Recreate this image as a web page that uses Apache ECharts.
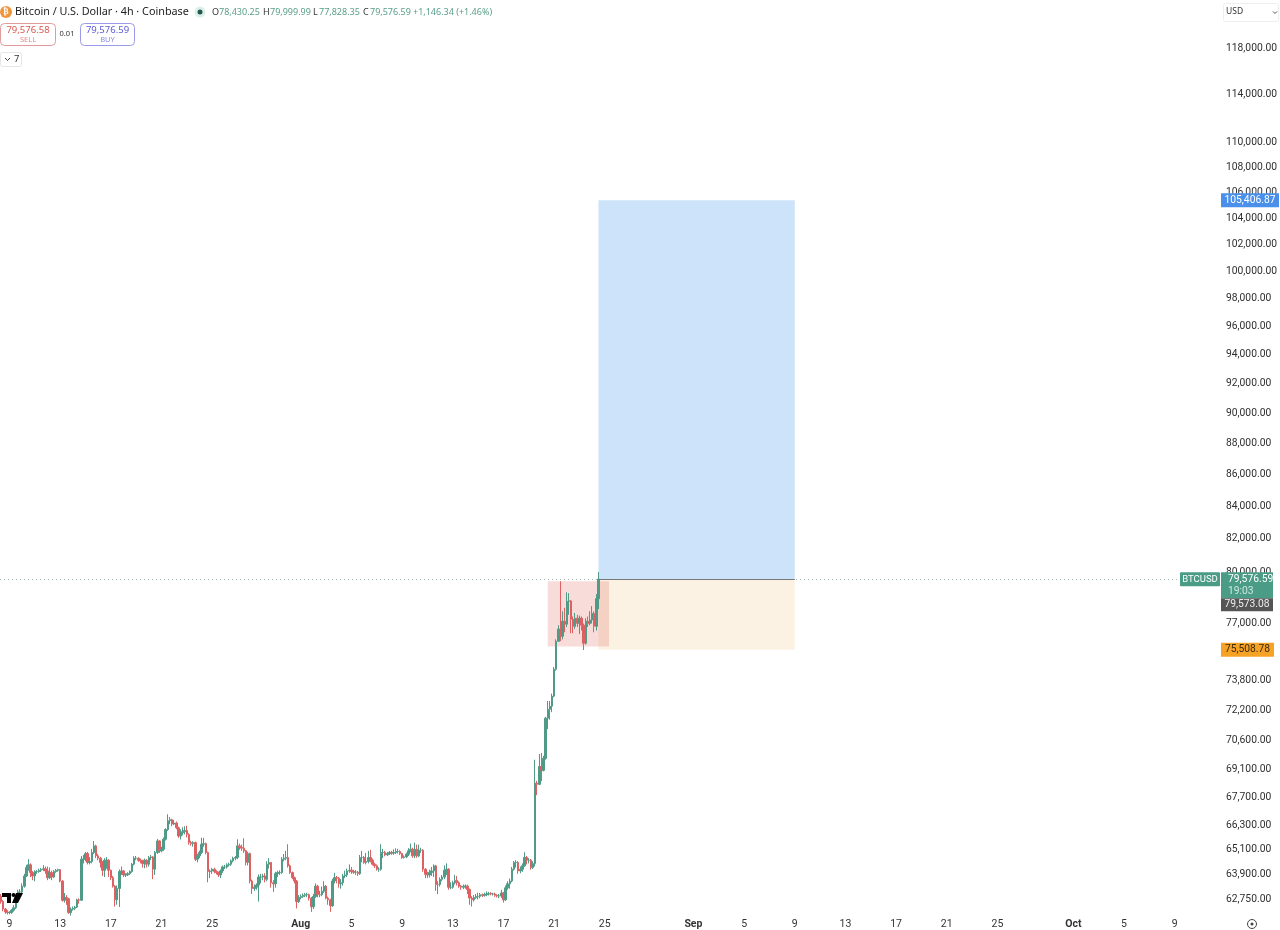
<!DOCTYPE html>
<html><head><meta charset="utf-8">
<style>html,body{margin:0;padding:0;background:#fff}#c{width:1280px;height:930px}</style>
<script src="https://cdn.jsdelivr.net/npm/echarts@6/dist/echarts.min.js"></script>
</head><body><div id="c"></div>
<script>
const opens=[
62900,62650,62300,62170,62140,62140,62250,62360,62730,63100,
63100,63370,63850,64250,64380,64010,63850,64060,64060,64120,
64150,64190,64090,63770,64010,63800,64060,64120,64150,63610,
62710,62840,62780,62140,62300,62330,62390,62730,62710,64650,
64650,64920,64490,64540,64970,65290,64810,64700,64490,64120,
64600,64600,64120,63770,63370,62730,63260,64060,64090,63900,
63900,63960,64060,64410,64700,64700,64600,64570,64440,64600,
64410,64730,64760,64170,64970,65530,65050,65130,65610,66090,
66520,66570,66360,66410,66170,65770,65930,65980,66040,65850,
65450,65400,65450,64650,64810,64970,65370,65400,64970,64060,
64090,64170,64060,64010,63900,64090,64280,64280,64380,64410,
64570,64700,64730,65290,65210,65180,65050,64490,64920,63610,
63260,63320,63420,63800,63800,63850,63690,64410,64490,63530,
63480,63960,64010,64010,64650,64700,64730,64330,64010,63770,
63610,62650,62840,62890,62940,62970,62970,62810,62410,62890,
63370,62970,62970,63130,63370,62810,62730,62460,63610,63770,
63740,63480,63530,63850,63900,64090,64120,64060,64030,64030,
63960,64730,64730,64490,64540,64730,64600,64410,64330,64170,
64170,64970,64970,64860,64920,64970,64940,64970,65020,65020,
64920,64730,64760,64890,65050,65130,64810,65130,64810,65080,
65080,64170,63930,63900,64010,64090,64330,63450,63450,63690,
63800,64120,64170,63320,63320,63530,63640,63530,63370,63320,
63370,63370,63210,62810,62730,62840,62890,62890,62970,62940,
62970,63000,63020,63000,63000,62940,62910,62910,63050,62730,
63290,63480,63610,64170,64490,64490,64090,64170,64330,64730,
64600,64600,64250,64440,68400,68340,69250,69050,69670,71780,
72250,72420,72960,74430,75990,76680,76280,77130,76960,78280,
78300,77240,76840,77300,77010,77300,76900,75880,77130,77000,
77200,77580,76840,78430.25];
const closes=[
62650,62300,62170,62140,62140,62250,62360,62730,63100,63100,
63370,63850,64250,64380,64010,63850,64060,64060,64120,64150,
64190,64090,63770,64010,63800,64060,64120,64150,63610,62710,
62840,62780,62140,62300,62330,62390,62730,62710,64650,64650,
64920,64490,64540,64970,65290,64810,64700,64490,64120,64600,
64600,64120,63770,63370,62730,63260,64060,64090,63900,63900,
63960,64060,64410,64700,64700,64600,64570,64440,64600,64410,
64730,64760,64170,64970,65530,65050,65130,65610,66090,66520,
66570,66360,66410,66170,65770,65930,65980,66040,65850,65450,
65400,65450,64650,64810,64970,65370,65400,64970,64060,64090,
64170,64060,64010,63900,64090,64280,64280,64380,64410,64570,
64700,64730,65290,65210,65180,65050,64490,64920,63610,63260,
63320,63420,63800,63800,63850,63690,64410,64490,63530,63480,
63960,64010,64010,64650,64700,64730,64330,64010,63770,63610,
62650,62840,62890,62940,62970,62970,62810,62410,62890,63370,
62970,62970,63130,63370,62810,62730,62460,63610,63770,63740,
63480,63530,63850,63900,64090,64120,64060,64030,64030,63960,
64730,64730,64490,64540,64730,64600,64410,64330,64170,64170,
64970,64970,64860,64920,64970,64940,64970,65020,65020,64920,
64730,64760,64890,65050,65130,64810,65130,64810,65080,65080,
64170,63930,63900,64010,64090,64330,63450,63450,63690,63800,
64120,64170,63320,63320,63530,63640,63530,63370,63320,63370,
63370,63210,62810,62730,62840,62890,62890,62970,62940,62970,
63000,63020,63000,63000,62940,62910,62910,63050,62730,63290,
63480,63610,64170,64490,64490,64090,64170,64330,64730,64600,
64600,64250,64440,68400,68340,69250,69050,69670,71780,72250,
72420,72960,74430,75990,76680,76280,77130,76960,78280,78300,
77240,76840,77300,77010,77300,76900,75880,77130,77000,77200,
77580,76840,78430,79576.59];
const highs=[
63000,62720,62350,62250,62200,62300,62480,62800,63200,63230,
63500,63950,64380,64650,64450,64080,64120,64130,64200,64230,
64360,64300,64300,64250,64100,64130,64180,64200,64180,63650,
63050,62950,62820,62380,62420,62450,62780,62800,64800,64850,
65000,65000,64750,65150,65530,65350,64900,64760,64560,64700,
64750,64650,64150,63850,63420,63400,64160,64300,64130,63980,
64030,64120,64470,64790,64800,64740,64680,64620,64680,64650,
64800,64850,64800,65050,65630,65560,65250,65700,66150,66840,
66700,66620,66560,66480,66230,66100,66200,66250,66280,65900,
65540,65520,65500,64900,65060,65690,65680,65450,65020,64160,
64230,64240,64120,64060,64160,64350,64380,64450,64480,64640,
64770,64800,65610,65400,65350,65660,65100,65010,64970,63680,
63450,63500,63920,63950,63950,63980,64550,64700,64520,63650,
64050,64100,64120,64750,64900,65050,65370,64400,64060,63820,
63660,62950,62980,63020,63050,63060,63020,62860,63000,63500,
63430,63150,63350,63600,63420,62880,62780,63720,64000,63850,
63800,63700,63950,64100,64200,64400,64280,64150,64130,64090,
64850,65050,64800,64950,65050,65100,64680,64480,64400,64260,
65370,65150,65050,65000,65050,65050,65120,65170,65150,65080,
64960,64830,64960,65180,65400,65200,65450,65350,65350,65200,
65130,64220,64050,64150,64280,64400,64380,63600,63780,63900,
64350,64450,64220,63550,63620,63900,63850,63600,63420,63450,
63450,63440,63260,62900,62950,63000,63060,63050,63020,63060,
63120,63100,63090,63060,63060,62990,63000,63200,63100,63400,
63600,63730,64280,64560,64600,64560,64300,64450,64980,64800,
64700,64660,64550,69600,68520,69900,69950,69800,71850,72700,
72700,73100,74550,76100,76900,79450,77700,77900,78800,78750,
78350,77400,77600,77500,77450,77400,77000,77300,77400,77700,
78000,77700,78700,79999.99];
const lows=[
62550,62200,62080,62050,62060,62080,62180,62300,62680,62950,
63000,63300,63800,64100,63800,63650,63600,63950,64000,64040,
64080,63950,63650,63700,63650,63750,64000,64050,63550,62650,
62600,62500,62080,62000,62230,62250,62350,62550,62680,64450,
64550,64400,64400,64450,64900,64700,64600,64250,63850,63800,
64200,63800,63650,63300,62420,62500,62400,63900,63800,63800,
63850,63900,64000,64350,64600,64520,64450,64250,64220,64250,
64300,64600,63700,63900,64900,64950,64980,65050,65550,66020,
66350,66250,66300,66100,65680,65600,65800,65850,65700,65350,
65300,65250,64560,64500,64700,64900,65250,64880,63550,63750,
63950,63980,63920,63800,63750,64000,64180,64200,64300,64330,
64500,64600,64650,65100,65050,64950,64350,64350,63500,63000,
63150,63200,62650,63500,63650,63550,63600,64200,63300,63100,
63300,63800,63900,63950,64550,64600,64250,63950,63700,63500,
62330,62580,62750,62820,62860,62860,62700,62170,62300,62820,
62850,62850,62900,63050,62750,62500,62170,62400,63500,63500,
63300,63250,63400,63750,63800,64000,63950,63950,63900,63850,
63900,64500,64430,64400,64450,64500,64350,64230,64100,64050,
64100,64700,64790,64800,64850,64860,64860,64900,64920,64850,
64660,64680,64700,64800,64980,64720,64700,64720,64750,64950,
64050,63750,63750,63780,63850,63800,63150,63000,63350,63600,
63700,63900,63200,63230,63250,63450,63400,63290,63200,63230,
63250,63000,62500,62420,62650,62780,62750,62800,62860,62880,
62900,62930,62940,62930,62870,62840,62800,62820,62600,62680,
63200,63250,63550,64100,64250,63950,63980,64050,64280,64400,
64450,64150,64180,64300,67800,68300,68500,69000,69600,71200,
71700,72100,72900,74350,75990,76000,76100,76500,76800,77500,
76450,76450,76700,76800,76400,76600,75500,75800,76800,76900,
77000,76500,76600,77828.35];

const axisTicks=[118000,114000,110000,108000,106000,104000,102000,100000,98000,96000,94000,92000,90000,88000,86000,84000,82000,80000,77000,73800,72200,70600,69100,67700,66300,65100,63900,62750];
const dayTicks=[1,5,9,13,17,21,25];
const monthNames=['Jan','Feb','Mar','Apr','May','Jun','Jul','Aug','Sep','Oct','Nov','Dec'];
const barCount=577;
const lastPrice=79576.59, spreadPrice=79573.08, targetPrice=105406.87, stopPrice=75508.78;
const boxTop=79450, boxBottom=75705;
const posStart='08-24 12', posEnd='09-09 00', boxStart='08-20 12', boxEnd='08-25 08';

const pad=n=>String(n).padStart(2,'0');
const stamps=[];
for(let i=0;i<barCount;i++){stamps.push(new Date(Date.UTC(2025,6,8,8+4*i)));}
const categories=stamps.map(d=>pad(d.getUTCMonth()+1)+'-'+pad(d.getUTCDate())+' '+pad(d.getUTCHours()));
const candles=opens.map((o,i)=>[o,closes[i],lows[i],highs[i]]);

const green='#4f9b87',red='#df6062';
const axisFont='Roboto';
const chart=echarts.init(document.getElementById('c'),null,{renderer:'canvas'});
chart.setOption({
  animation:false,backgroundColor:'#fff',
  grid:{left:-0.5,right:60,top:1,bottom:17,containLabel:false},
  xAxis:{type:'category',data:categories,boundaryGap:true,
    axisLine:{show:false},axisTick:{show:false},splitLine:{show:false},
    axisLabel:{
      interval:(idx)=>{const d=stamps[idx];return d.getUTCHours()===0&&dayTicks.includes(d.getUTCDate());},
      hideOverlap:false,margin:6,fontFamily:axisFont,fontSize:10.5,color:'#333',
      formatter:(v,idx)=>{const d=stamps[idx];return d.getUTCDate()===1?'{m|'+monthNames[d.getUTCMonth()]+'}':String(d.getUTCDate());},
      rich:{m:{fontFamily:axisFont,fontSize:10.5,fontWeight:'bold',color:'#333'}}
    }},
  yAxis:{type:'log',position:'right',min:62120,max:122189,logBase:10,
    axisLine:{show:false},axisTick:{show:false},splitLine:{show:false},minorTick:{show:false},minorSplitLine:{show:false},
    axisLabel:{customValues:axisTicks,margin:8,fontFamily:axisFont,fontSize:10.3,color:'#2e2e2e',hideOverlap:false,
      showMinLabel:true,showMaxLabel:true,
      formatter:v=>Number(v).toLocaleString('en-US',{minimumFractionDigits:2,maximumFractionDigits:2})}},
  series:[{
    type:'candlestick',data:candles,barWidth:2,clip:false,
    itemStyle:{color:green,color0:red,borderColor:green,borderColor0:red,borderWidth:1},
    markArea:{silent:true,animation:false,data:[
      [{coord:[posStart,targetPrice],itemStyle:{color:'#cce3fa'}},{coord:[posEnd,lastPrice]}],
      [{coord:[posStart,lastPrice],itemStyle:{color:'#fcf2e3'}},{coord:[posEnd,stopPrice]}],
      [{coord:[boxStart,boxTop],itemStyle:{color:'rgba(220,80,70,0.2)'}},{coord:[boxEnd,boxBottom]}]
    ]},
    markLine:{silent:true,animation:false,symbol:'none',label:{show:false},data:[
      {yAxis:lastPrice,lineStyle:{color:'#a8b8b3',type:[1,3],width:1}},
      [{coord:[posStart,lastPrice],lineStyle:{color:'#777',type:'solid',width:1}},{coord:[posEnd,lastPrice]}]
    ]}
  }],
  tooltip:{show:false}
});

function txt(x,y,t,o={}){return {type:'text',x,y,z:200,style:{text:t,fontFamily:o.f||'Noto Sans',fontSize:o.s||11,fontWeight:o.w||'normal',fill:o.c||'#222',align:o.a||'left',verticalAlign:'middle'}};}
function box(x,y,w,h,o={}){return {type:'rect',z:o.z||150,shape:{x,y,width:w,height:h,r:o.r||0},style:{fill:o.fill||'#fff',stroke:o.stroke||null,lineWidth:o.lw||1}};}
const yOf=p=>chart.convertToPixel({yAxisIndex:0},p);
const fmt=p=>p.toLocaleString('en-US',{minimumFractionDigits:2,maximumFractionDigits:2});
const yLast=yOf(lastPrice),yT=yOf(targetPrice),yS=yOf(stopPrice);
const g='#5a9f8a';
const gr=[
  {type:'circle',z:150,shape:{cx:6,cy:12,r:6},style:{fill:'#f0953a'}},
  txt(6,12,'₿',{c:'#fff',s:8,a:'center',w:'bold',f:'DejaVu Sans'}),
  txt(15,12,'Bitcoin / U.S. Dollar · 4h · Coinbase',{s:10.8,c:'#222'}),
  {type:'circle',z:150,shape:{cx:200,cy:12,r:5.5},style:{fill:'#dcefe9'}},
  {type:'circle',z:151,shape:{cx:200,cy:12,r:2.5},style:{fill:'#22594c'}},
  txt(212,12,'O',{s:9,c:'#333'}),txt(219,12,'78,430.25',{s:9,c:g}),
  txt(263,12,'H',{s:9,c:'#333'}),txt(270,12,'79,999.99',{s:9,c:g}),
  txt(313,12,'L',{s:9,c:'#333'}),txt(319,12,'77,828.35',{s:9,c:g}),
  txt(363,12,'C',{s:9,c:'#333'}),txt(370,12,'79,576.59',{s:9,c:g}),
  txt(413,12,'+1,146.34 (+1.46%)',{s:9,c:g}),
  box(0.5,23.5,55,22,{r:4,stroke:'#e29a9a'}),
  txt(28,30,'79,576.58',{s:9.5,c:'#d9574f',a:'center'}),txt(28,39.5,'SELL',{s:7.5,c:'#e08a85',a:'center'}),
  txt(67,34,'0.01',{s:7.5,c:'#333',a:'center'}),
  box(80.5,23.5,54,22,{r:4,stroke:'#9a9ae8'}),
  txt(107.5,30,'79,576.59',{s:9.5,c:'#5a5ad8',a:'center'}),txt(107.5,39.5,'BUY',{s:7.5,c:'#8a8ae0',a:'center'}),
  box(0.5,52.5,21,14,{r:2,stroke:'#e6e6e6'}),
  {type:'polyline',z:160,shape:{points:[[5,58],[7.5,60.5],[10,58]]},style:{stroke:'#444',fill:null,lineWidth:1}},
  txt(14,59,'7',{s:9.5,c:'#333'}),
  box(1223.5,3.5,55,18,{r:2,stroke:'#eee'}),
  txt(1226,12,'USD',{s:8.5,c:'#333'}),
  {type:'polyline',z:160,shape:{points:[[1273,11.5],[1275,13.5],[1277,11.5]]},style:{stroke:'#555',fill:null,lineWidth:1}},
  box(1221,yT-7,58,14,{fill:'#4a90ea',z:170}),txt(1250,yT,fmt(targetPrice),{f:axisFont,s:10.3,c:'#fff',a:'center'}),
  box(1180,yLast-7,40,14,{fill:'#4a9c86',r:1,z:170}),txt(1200,yLast,'BTCUSD',{f:axisFont,s:9.5,c:'#fff',a:'center'}),
  box(1221,yLast-7,52,26,{fill:'#4a9c86',z:170}),txt(1228,yLast,fmt(lastPrice),{f:axisFont,s:10.3,c:'#fff'}),
  txt(1228,yLast+12,'19:03',{f:axisFont,s:10.3,c:'#cfe8df'}),
  box(1221,yLast+19,52,13,{fill:'#555',z:170}),txt(1247,yLast+25.5,fmt(spreadPrice),{f:axisFont,s:10.3,c:'#eee',a:'center'}),
  box(1221,yS-7,53,14,{fill:'#f5a225',z:170}),txt(1247.5,yS,fmt(stopPrice),{f:axisFont,s:10.3,c:'#3a2a10',a:'center'}),
  {type:'polygon',z:160,shape:{points:[[2,893],[11,893],[11,903],[7,903],[7,897],[2,897]]},style:{fill:'#000'}},
  {type:'circle',z:160,shape:{cx:13.5,cy:895,r:2},style:{fill:'#000'}},
  {type:'polygon',z:160,shape:{points:[[16,893],[23,893],[18,903],[12,903]]},style:{fill:'#000'}},
  {type:'circle',z:160,shape:{cx:1252,cy:924,r:4.5},style:{fill:null,stroke:'#444',lineWidth:1}},
  {type:'circle',z:160,shape:{cx:1252,cy:924,r:1.5},style:{fill:'#444'}}
];
chart.setOption({graphic:{elements:gr}});
</script></body></html>
